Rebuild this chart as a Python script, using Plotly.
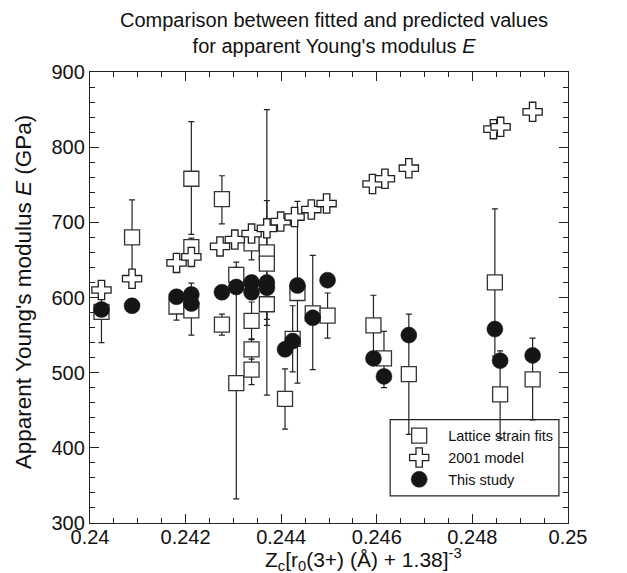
import plotly.graph_objects as go

# ---- Data ----
# Lattice strain fits (open squares) with asymmetric error bars
lat_x = [0.24024, 0.24088, 0.24181, 0.24212, 0.24212, 0.24212, 0.24276, 0.24276,
         0.24306, 0.24306, 0.24338, 0.24338, 0.24338, 0.24338, 0.24370, 0.24370,
         0.24370, 0.24408, 0.24424, 0.24434, 0.24466, 0.24497, 0.24593, 0.24615,
         0.24667, 0.24847, 0.24858, 0.24926]
lat_y = [581, 680, 588, 758, 667, 583, 731, 564,
         630, 486, 672, 569, 531, 504, 660, 645,
         591, 465, 545, 606, 579, 576, 563, 519,
         498, 620, 471, 491]
lat_err_up = [40, 50, 18, 76, 12, 36, 31, 14,
              17, 154, 22, 25, 13, 20, 190, 84,
              20, 40, 44, 122, 77, 30, 40, 36,
              80, 98, 58, 55]
lat_err_down = [41, 50, 18, 74, 12, 33, 33, 14,
                17, 154, 22, 24, 13, 20, 190, 82,
                20, 40, 44, 120, 75, 30, 40, 39,
                80, 98, 58, 54]

# 2001 model (open crosses)
m2001_x = [0.24024, 0.24088, 0.24181, 0.24212, 0.24272, 0.24303, 0.24338, 0.24370,
           0.24399, 0.24428, 0.24463, 0.24495, 0.24591, 0.24617, 0.24667, 0.24844,
           0.24859, 0.24926]
m2001_y = [610, 625, 646, 654, 668, 677, 685, 692,
           701, 707, 717, 725, 751, 758, 772, 824,
           827, 847]

# This study (filled circles)
study_x = [0.24024, 0.24088, 0.24181, 0.24212, 0.24212, 0.24276, 0.24306, 0.24338,
           0.24338, 0.24370, 0.24370, 0.24408, 0.24424, 0.24434, 0.24466, 0.24497,
           0.24593, 0.24615, 0.24667, 0.24847, 0.24858, 0.24926]
study_y = [584, 589, 601, 604, 592, 607, 614, 620,
           607, 620, 613, 531, 542, 616, 573, 623,
           519, 495, 550, 558, 516, 523]

x_tickvals = [0.240, 0.242, 0.244, 0.246, 0.248, 0.250]
x_ticktext = ["0.24", "0.242", "0.244", "0.246", "0.248", "0.25"]
y_tickvals = [300, 400, 500, 600, 700, 800, 900]
y_ticktext = ["300", "400", "500", "600", "700", "800", "900"]

FONT = "Liberation Sans, Arial, Helvetica, sans-serif"
INK = "#111111"

fig = go.Figure()

fig.add_trace(go.Scatter(
    x=lat_x, y=lat_y, mode="markers", name="Lattice strain fits",
    marker=dict(symbol="square", size=15, color="white",
                line=dict(color="#333333", width=1.3)),
    error_y=dict(type="data", symmetric=False, array=lat_err_up,
                 arrayminus=lat_err_down, color="#222222", thickness=1.2, width=3),
))

fig.add_trace(go.Scatter(
    x=m2001_x, y=m2001_y, mode="markers", name="2001 model",
    marker=dict(symbol="cross", size=16, color="white",
                line=dict(color="#222222", width=1.3)),
))

fig.add_trace(go.Scatter(
    x=study_x, y=study_y, mode="markers", name="This study",
    marker=dict(symbol="circle", size=16, color="#151515",
                line=dict(color="#151515", width=0.5)),
))

axis_common = dict(
    showline=True, linecolor="#222222", linewidth=1.3, mirror="ticks",
    ticks="inside", tickcolor="#222222", tickwidth=1.2, ticklen=9,
    showgrid=False, zeroline=False, automargin=False,
    tickfont=dict(family=FONT, size=20, color=INK),
)

fig.update_xaxes(
    range=[0.24, 0.25], tickvals=x_tickvals, ticktext=x_ticktext,
    ticklabelstandoff=-4,
    minor=dict(dtick=0.0005, tick0=0.24, ticks="inside", ticklen=5,
               tickcolor="#222222", tickwidth=1.0, showgrid=False),
    **axis_common,
)
fig.update_yaxes(
    range=[300, 900], tickvals=y_tickvals, ticktext=y_ticktext,
    minor=dict(dtick=20, tick0=300, ticks="inside", ticklen=5,
               tickcolor="#222222", tickwidth=1.0, showgrid=False),
    **axis_common,
)

# y-axis title
fig.add_annotation(
    text="Apparent Young's modulus <i>E</i> (GPa)", textangle=-90,
    xref="paper", yref="paper", x=-0.139, y=0.513, xanchor="center", yanchor="middle",
    showarrow=False, font=dict(family=FONT, size=22.5, color=INK),
)

# x-axis title (sits right of centre in the reference)
fig.add_annotation(
    text="Z<sub>c</sub>[r<sub>0</sub>(3+) (Å) + 1.38]<sup>-3</sup>",
    xref="paper", yref="paper", x=0.572, y=-0.082, xanchor="center", yanchor="middle",
    showarrow=False, font=dict(family=FONT, size=21, color=INK),
)

# legend frame
fig.add_shape(type="rect", xref="paper", yref="paper",
              x0=0.628, x1=0.981, y0=0.060, y1=0.229,
              line=dict(color="#222222", width=1.2), fillcolor="white", layer="below")

fig.update_layout(
    width=627, height=573,
    margin=dict(l=82, r=67, t=64, b=58),
    paper_bgcolor="white", plot_bgcolor="white",
    title=dict(text="Comparison between fitted and predicted values<br>for apparent Young's modulus <i>E</i>",
               x=0.52, xanchor="center", y=0.966, yanchor="top",
               font=dict(family=FONT, size=20, color=INK)),
    legend=dict(x=0.628, xanchor="left", y=0.229, yanchor="top",
                bgcolor="rgba(0,0,0,0)", borderwidth=0, itemwidth=48,
                font=dict(family=FONT, size=14.5, color=INK),
                tracegroupgap=0),
    showlegend=True,
)

fig.write_html("out.html")
